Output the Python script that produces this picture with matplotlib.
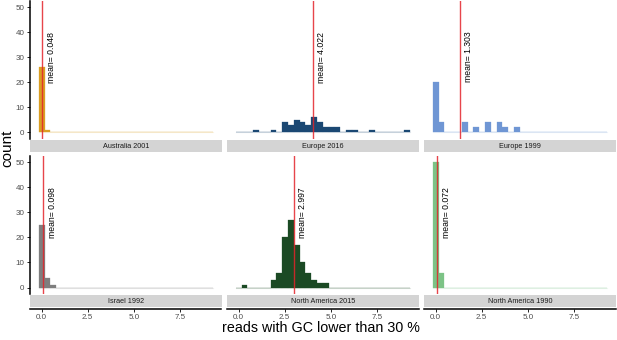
import matplotlib.pyplot as plt
import numpy as np

plt.rcParams['font.family'] = ['Liberation Sans', 'DejaVu Sans']

# histogram bins (30 bins, centred on multiples of the bin width)
binwidth = 0.315
centers = np.arange(30) * binwidth

panels = ['Australia 2001', 'Europe 2016', 'Europe 1999',
          'Israel 1992', 'North America 2015', 'North America 1990']
colors = ['#DA9E22', '#1B4873', '#6F96D4', '#7E7E7E', '#1B4A24', '#7CC386']
means = [0.048, 4.022, 1.303, 0.098, 2.997, 0.072]

australia_2001 = [26, 1, 0, 0, 0, 0, 0, 0, 0, 0, 0, 0, 0, 0, 0,
                  0, 0, 0, 0, 0, 0, 0, 0, 0, 0, 0, 0, 0, 0, 0]
europe_2016 = [0, 0, 0, 1, 0, 0, 1, 0, 4, 3, 5, 4, 3, 6, 4,
               2, 2, 2, 0, 1, 1, 0, 0, 1, 0, 0, 0, 0, 0, 1]
europe_1999 = [20, 4, 0, 0, 0, 4, 0, 2, 0, 4, 0, 4, 2, 0, 2,
               0, 0, 0, 0, 0, 0, 0, 0, 0, 0, 0, 0, 0, 0, 0]
israel_1992 = [25, 4, 1, 0, 0, 0, 0, 0, 0, 0, 0, 0, 0, 0, 0,
               0, 0, 0, 0, 0, 0, 0, 0, 0, 0, 0, 0, 0, 0, 0]
north_america_2015 = [0, 1, 0, 0, 0, 0, 3, 6, 20, 27, 17, 10, 6, 3, 2,
                      2, 0, 0, 0, 0, 0, 0, 0, 0, 0, 0, 0, 0, 0, 0]
north_america_1990 = [50, 6, 0, 0, 0, 0, 0, 0, 0, 0, 0, 0, 0, 0, 0,
                      0, 0, 0, 0, 0, 0, 0, 0, 0, 0, 0, 0, 0, 0, 0]
counts = [australia_2001, europe_2016, europe_1999,
          israel_1992, north_america_2015, north_america_1990]

xticks = [0.0, 2.5, 5.0, 7.5]
yticks = [0, 10, 20, 30, 40, 50]

W, H = 617, 340
fig = plt.figure(figsize=(W / 100, H / 100), dpi=100)


def box(x0, y0, w, h):
    # pixel box (top-left origin) -> figure fraction
    return [x0 / W, 1 - (y0 + h) / H, w / W, h / H]


col_x = [30, 227, 424]
pw = 191.5
row_y = [0.8, 156.0]
ph = 137.8
strip_h = 12.0

xlim = (-0.63, 9.76)
ylim = (-2.5, 52.5)

for i, name in enumerate(panels):
    r, c = divmod(i, 3)
    ax = fig.add_axes(box(col_x[c], row_y[r], pw, ph))
    ax.bar(centers, counts[i], width=binwidth, color=colors[i],
           edgecolor=colors[i], linewidth=0.2, zorder=2)
    ax.plot([-binwidth / 2, centers[-1] + binwidth / 2], [0, 0],
            color=colors[i], alpha=0.12, lw=0.8, zorder=1)
    ax.axvline(means[i], color='#E3242B', lw=1.0, alpha=0.85, zorder=3)
    ax.annotate('mean= %.3f' % means[i], xy=(means[i], 30),
                xytext=(3.3, 0), textcoords='offset points',
                rotation=90, ha='left', va='center', fontsize=6.2,
                color='black', zorder=4)
    ax.set_xlim(*xlim)
    ax.set_ylim(*ylim)
    for s in ['top', 'right', 'bottom']:
        ax.spines[s].set_visible(False)
    ax.set_xticks([])
    if c == 0:
        ax.spines['left'].set_linewidth(1.1)
        ax.set_yticks(yticks)
        ax.tick_params(axis='y', length=2.5, width=0.6, pad=1.5,
                       labelsize=5.8, labelcolor='#4D4D4D')
    else:
        ax.spines['left'].set_visible(False)
        ax.set_yticks([])

    # strip below the panel
    sy = row_y[r] + ph + 1.0
    st = fig.add_axes(box(col_x[c], sy, pw, strip_h))
    st.set_facecolor('#D4D4D4')
    st.set_xlim(*xlim)
    st.set_yticks([])
    for s in ['top', 'right', 'left']:
        st.spines[s].set_visible(False)
    st.text(0.5, 0.45, name, transform=st.transAxes, ha='center',
            va='center', fontsize=5.2, color='#1A1A1A')
    if r == 1:
        st.spines['bottom'].set_position(('outward', 1.5))
        st.spines['bottom'].set_linewidth(1.1)
        st.set_xticks(xticks)
        st.set_xticklabels(['%.1f' % t for t in xticks])
        st.tick_params(axis='x', length=2.0, width=0.6, pad=1.5,
                       labelsize=5.8, labelcolor='#4D4D4D')
    else:
        st.spines['bottom'].set_visible(False)
        st.set_xticks([])

fig.text(7 / W, 1 - 148 / H, 'count', rotation=90, ha='center',
         va='center', fontsize=11)
fig.text(321 / W, 1 - 328 / H, 'reads with GC lower than 30 %',
         ha='center', va='center', fontsize=10.3)

fig.savefig('out.png', dpi=100)
